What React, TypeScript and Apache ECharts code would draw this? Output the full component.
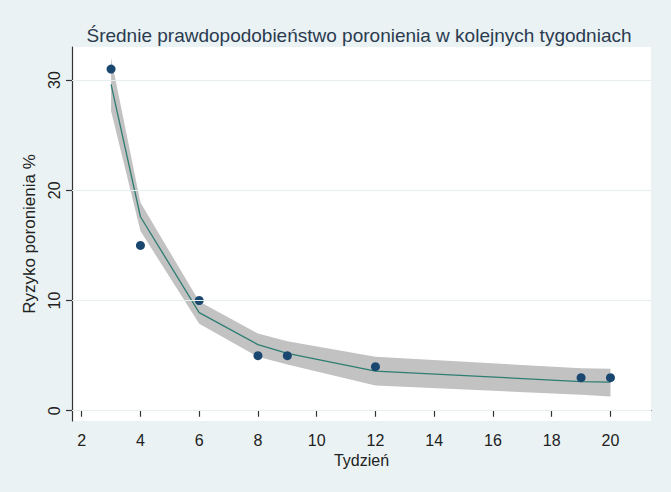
import React, { useEffect, useRef } from "react";
import * as echarts from "echarts";

const title = "Średnie prawdopodobieństwo poronienia w kolejnych tygodniach";
const xTitle = "Tydzień";
const yTitle = "Ryzyko poronienia %";

const obsWeeks = [3, 4, 6, 8, 9, 12, 19, 20];
const obsRisk = [31, 15, 10, 5, 5, 4, 3, 3];

const fitWeeks = [3, 4, 6, 8, 9, 12, 19, 20];
const fitRisk = [29.6, 17.6, 8.9, 6.0, 5.2, 3.6, 2.65, 2.6];
const ciLower = [27.2, 16.3, 7.9, 4.9, 4.2, 2.3, 1.45, 1.3];
const ciUpper = [32.0, 18.9, 9.9, 7.0, 6.3, 4.9, 3.85, 3.8];

const xTicks = [2, 4, 6, 8, 10, 12, 14, 16, 18, 20];
const yTicks = [0, 10, 20, 30];

const FONT = "Liberation Sans, Arial, sans-serif";

export default function App() {
  const ref = useRef<HTMLDivElement>(null);

  useEffect(() => {
    if (!ref.current) return;
    const chart = echarts.init(ref.current, null, { renderer: "svg" });

    const ciData = fitWeeks.map((w, i) => [w, ciLower[i], ciUpper[i]]);

    chart.setOption({
      animation: false,
      backgroundColor: "#eaf2f3",
      textStyle: { fontFamily: FONT },
      title: {
        text: title,
        left: 354,
        top: 21,
        textAlign: "center",
        textStyle: {
          fontFamily: FONT,
          fontSize: 19,
          fontWeight: "normal",
          color: "#2a3b50",
        },
      },
      grid: {
        left: 72,
        right: 20,
        top: 47,
        bottom: 71,
        show: true,
        backgroundColor: "#ffffff",
        borderWidth: 0,
      },
      xAxis: {
        type: "value",
        min: 1.67,
        max: 21.38,
        name: xTitle,
        nameLocation: "middle",
        nameGap: 29,
        nameTextStyle: { fontFamily: FONT, fontSize: 16, color: "#222" },
        axisLine: { show: true, lineStyle: { color: "#333", width: 1.2 } },
        axisTick: {
          show: true,
          length: 6,
          customValues: xTicks,
          lineStyle: { color: "#333", width: 1.2 },
        },
        axisLabel: {
          customValues: xTicks,
          fontFamily: FONT,
          fontSize: 16,
          color: "#222",
          margin: 11,
        },
        splitLine: { show: false },
      },
      yAxis: {
        type: "value",
        min: -0.93,
        max: 33,
        name: yTitle,
        nameLocation: "middle",
        nameGap: 27,
        nameRotate: 90,
        nameTextStyle: { fontFamily: FONT, fontSize: 17, color: "#222" },
        axisLine: { show: true, lineStyle: { color: "#333", width: 1.2 } },
        axisTick: {
          show: true,
          length: 6,
          customValues: yTicks,
          lineStyle: { color: "#333", width: 1.2 },
        },
        axisLabel: {
          customValues: yTicks,
          rotate: 90,
          fontFamily: FONT,
          fontSize: 16,
          color: "#222",
          margin: 10,
        },
        splitLine: { show: false },
      },
      series: [
        {
          type: "line",
          data: [],
          silent: true,
          markLine: {
            silent: true,
            symbol: "none",
            label: { show: false },
            lineStyle: { color: "#e6eef0", width: 1, type: "solid" },
            data: yTicks.map((v) => ({ yAxis: v })),
          },
        },
        {
          type: "custom",
          data: ciData,
          silent: true,
          renderItem: (params: any, api: any) => {
            if (params.dataIndex !== 0) return null;
            const upperPts = ciData.map((d) => api.coord([d[0], d[2]]));
            const lowerPts = ciData
              .slice()
              .reverse()
              .map((d) => api.coord([d[0], d[1]]));
            return {
              type: "polygon",
              shape: { points: upperPts.concat(lowerPts) },
              style: { fill: "#c2c2c2", stroke: "none" },
            };
          },
          z: 2,
        },
        {
          type: "line",
          data: fitWeeks.map((w, i) => [w, fitRisk[i]]),
          showSymbol: false,
          symbol: "none",
          lineStyle: { color: "#2e7d72", width: 1.3 },
          z: 3,
        },
        {
          type: "scatter",
          data: obsWeeks.map((w, i) => [w, obsRisk[i]]),
          symbol: "circle",
          symbolSize: 9,
          itemStyle: { color: "#1a476f", opacity: 1 },
          z: 4,
        },
      ],
    });

    return () => chart.dispose();
  }, []);

  return (
    <div
      ref={ref}
      style={{ position: "fixed", left: 0, top: 0, width: 671, height: 492 }}
    />
  );
}
